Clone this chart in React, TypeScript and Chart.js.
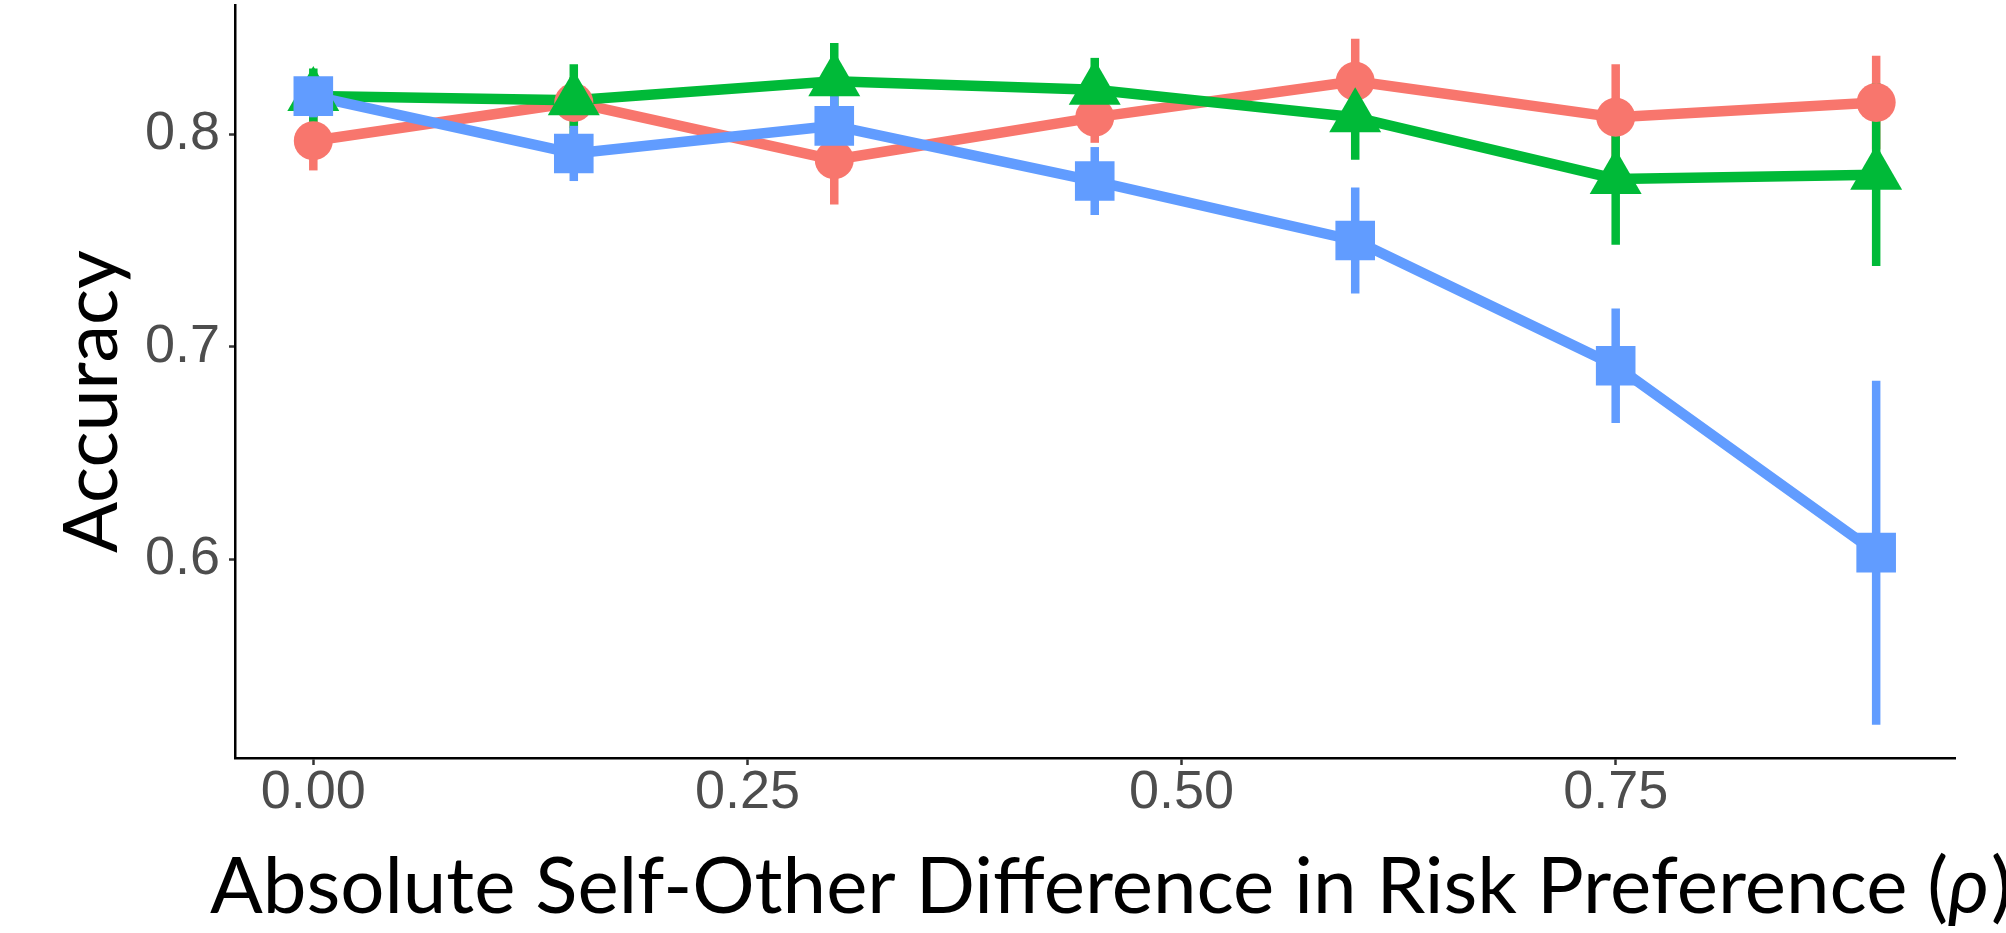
import React, { useEffect, useRef } from "react";
import { Chart, registerables } from "chart.js";

Chart.register(...registerables);

// ---- data ----
const xValues = [0, 0.15, 0.3, 0.45, 0.6, 0.75, 0.9];

const redMean = [0.797, 0.815, 0.788, 0.808, 0.825, 0.808, 0.815];
const redErr = [0.014, 0.012, 0.021, 0.012, 0.02, 0.025, 0.022];

const greenMean = [0.818, 0.816, 0.825, 0.821, 0.808, 0.779, 0.781];
const greenErr = [0.013, 0.017, 0.018, 0.015, 0.02, 0.031, 0.043];

const blueMean = [0.818, 0.791, 0.804, 0.778, 0.75, 0.691, 0.603];
const blueErr = [0.01, 0.013, 0.014, 0.016, 0.025, 0.027, 0.081];

const xTickValues = [0, 0.25, 0.5, 0.75];
const xTickLabels = ["0.00", "0.25", "0.50", "0.75"];
const yTickValues = [0.6, 0.7, 0.8];
const yTickLabels = ["0.6", "0.7", "0.8"];

const xTitleMain = "Absolute Self-Other Difference in Risk Preference (";
const xTitleSymbol = "ρ";
const xTitleEnd = ")";
const yTitle = "Accuracy";

const RED = "#F8766D";
const GREEN = "#00BA38";
const BLUE = "#619CFF";

const series = [
  { name: "red", mean: redMean, err: redErr, color: RED, style: "circle", radius: 19.5 },
  { name: "green", mean: greenMean, err: greenErr, color: GREEN, style: "triangle", radius: 30 },
  { name: "blue", mean: blueMean, err: blueErr, color: BLUE, style: "rect", radius: 28 },
];

const errorBarPlugin = {
  id: "errorBars",
  beforeDatasetsDraw(chart: any) {
    const { ctx, scales } = chart;
    const xs = scales.x;
    const ys = scales.y;
    ctx.save();
    ctx.lineCap = "butt";
    ctx.lineWidth = 8.5;
    series.forEach((s) => {
      ctx.strokeStyle = s.color;
      xValues.forEach((xv, i) => {
        const px = xs.getPixelForValue(xv);
        const y1 = ys.getPixelForValue(s.mean[i] + s.err[i]);
        const y2 = ys.getPixelForValue(s.mean[i] - s.err[i]);
        ctx.beginPath();
        ctx.moveTo(px, y1);
        ctx.lineTo(px, y2);
        ctx.stroke();
      });
    });
    ctx.restore();
  },
};

const titlePlugin = {
  id: "axisTitles",
  afterDraw(chart: any) {
    const { ctx } = chart;
    ctx.save();
    ctx.fillStyle = "#000000";
    ctx.textBaseline = "alphabetic";
    ctx.textAlign = "left";

    const family = "Lato";
    ctx.font = `100px ${family}`;
    const w1 = ctx.measureText(xTitleMain).width;
    ctx.font = `italic 100px ${family}`;
    const w2 = ctx.measureText(xTitleSymbol).width;
    ctx.font = `100px ${family}`;
    const w3 = ctx.measureText(xTitleEnd).width;
    const targetW = 1800;
    const size = (100 * targetW) / (w1 + w2 + w3);
    let x = 210;
    const baseY = 913;
    ctx.font = `${size}px ${family}`;
    ctx.fillText(xTitleMain, x, baseY);
    x += ctx.measureText(xTitleMain).width;
    ctx.font = `italic ${size}px ${family}`;
    ctx.fillText(xTitleSymbol, x, baseY);
    x += ctx.measureText(xTitleSymbol).width + 2;
    ctx.font = `${size}px ${family}`;
    ctx.fillText(xTitleEnd, x, baseY);

    ctx.font = `100px ${family}`;
    const wy = ctx.measureText(yTitle).width;
    const ySize = (100 * 303) / wy;
    ctx.font = `${ySize}px ${family}`;
    ctx.translate(117, 553);
    ctx.rotate(-Math.PI / 2);
    ctx.fillText(yTitle, 0, 0);
    ctx.restore();
  },
};

export default function App() {
  const ref = useRef<HTMLCanvasElement | null>(null);

  useEffect(() => {
    if (!ref.current) return;
    const lineSets = series.map((s, k) => ({
      label: s.name + " line",
      data: xValues.map((x, i) => ({ x, y: s.mean[i] })),
      borderColor: s.color,
      backgroundColor: s.color,
      borderWidth: 10.5,
      pointRadius: 0,
      tension: 0,
      borderJoinStyle: "round" as const,
      fill: false,
      order: 5 - k,
    }));
    const pointSets = series.map((s, k) => ({
      label: s.name,
      data: xValues.map((x, i) => ({ x, y: s.mean[i] })),
      showLine: false,
      pointStyle: s.style,
      pointRadius: s.radius,
      pointBackgroundColor: s.color,
      pointBorderColor: s.color,
      pointBorderWidth: 0,
      borderColor: s.color,
      backgroundColor: s.color,
      order: 2 - k,
    }));

    const chart = new Chart(ref.current, {
      type: "line",
      data: { datasets: [...lineSets, ...pointSets] as any },
      plugins: [errorBarPlugin, titlePlugin],
      options: {
        responsive: false,
        animation: false,
        devicePixelRatio: 1,
        layout: { autoPadding: false, padding: { top: 5, right: 51, left: 0, bottom: 0 } },
        plugins: {
          legend: { display: false },
          tooltip: { enabled: false },
          title: { display: false },
        },
        scales: {
          x: {
            type: "linear",
            min: -0.0451,
            max: 0.9454,
            afterBuildTicks: (s: any) => {
              s.ticks = xTickValues.map((v) => ({ value: v }));
            },
            afterFit: (s: any) => {
              s.height = 175;
              s.paddingLeft = 0;
              s.paddingRight = 0;
            },
            ticks: {
              autoSkip: false,
              maxRotation: 0,
              minRotation: 0,
              padding: 1,
              color: "#4D4D4D",
              font: { family: "Liberation Sans", size: 54, lineHeight: 1 },
              callback: (v: any) => {
                const i = xTickValues.indexOf(Number(v));
                return i >= 0 ? xTickLabels[i] : "";
              },
            },
            grid: {
              display: true,
              drawOnChartArea: false,
              drawTicks: true,
              tickLength: 7,
              tickColor: "#333333",
              tickWidth: 2.5,
            },
            border: { display: true, color: "#000000", width: 2.5 },
          },
          y: {
            type: "linear",
            min: 0.5063,
            max: 0.8609,
            afterBuildTicks: (s: any) => {
              s.ticks = yTickValues.map((v) => ({ value: v }));
            },
            afterFit: (s: any) => {
              s.width = 235;
              s.paddingTop = 0;
              s.paddingBottom = 0;
            },
            ticks: {
              autoSkip: false,
              padding: 9,
              color: "#4D4D4D",
              font: { family: "Liberation Sans", size: 54, lineHeight: 1 },
              callback: (v: any) => {
                const i = yTickValues.indexOf(Number(v));
                return i >= 0 ? yTickLabels[i] : "";
              },
            },
            grid: {
              display: true,
              drawOnChartArea: false,
              drawTicks: true,
              tickLength: 6,
              tickColor: "#333333",
              tickWidth: 2.5,
            },
            border: { display: true, color: "#000000", width: 2.5 },
          },
        },
      },
    });
    return () => chart.destroy();
  }, []);

  return (
    <div
      style={{
        position: "fixed",
        left: 0,
        top: 0,
        width: 2006,
        height: 933,
        background: "#ffffff",
      }}
    >
      <canvas ref={ref} width={2006} height={933} style={{ width: 2006, height: 933, display: "block" }} />
    </div>
  );
}
